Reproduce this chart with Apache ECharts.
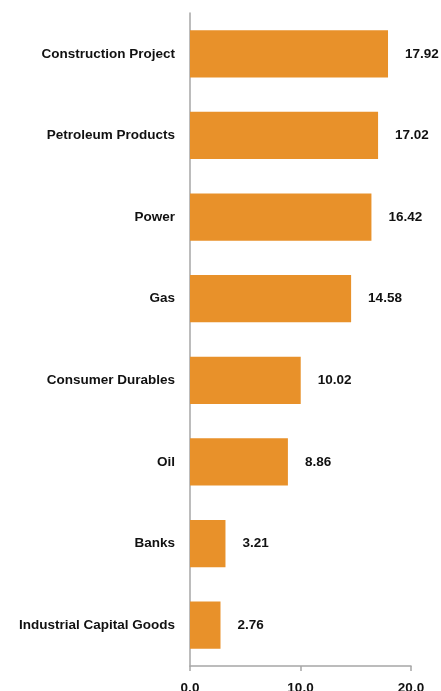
<!DOCTYPE html>
<html>
<head>
<meta charset="utf-8">
<script src="https://cdn.jsdelivr.net/npm/echarts@6/dist/echarts.min.js"></script>
<style>
  html, body { margin: 0; padding: 0; background: #fff; }
  #chart { width: 441px; height: 691px; }
</style>
</head>
<body>
<div id="chart"></div>
<script>
// Sectors, listed bottom to top as the category axis draws them
const sectors = [
  'Industrial Capital Goods',
  'Banks',
  'Oil',
  'Consumer Durables',
  'Gas',
  'Power',
  'Petroleum Products',
  'Construction Project'
];
const values = [2.76, 3.21, 8.86, 10.02, 14.58, 16.42, 17.02, 17.92];
const xTicks = [0, 10, 20];

const chart = echarts.init(document.getElementById('chart'));
const font = 'Liberation Sans, Arial, sans-serif';
const textSize = 13.5;

chart.setOption({
  animation: false,
  grid: {
    left: 190, right: 30, top: 13, bottom: 25,
    containLabel: false,
    outerBoundsMode: 'none'
  },
  xAxis: {
    type: 'value',
    min: xTicks[0],
    max: xTicks[xTicks.length - 1],
    interval: 10,
    axisLine: { show: true, lineStyle: { color: '#a6a6a6', width: 1.5 } },
    axisTick: { show: true, length: 5, lineStyle: { color: '#a6a6a6', width: 1.5 } },
    splitLine: { show: false },
    axisLabel: {
      margin: 15,
      color: '#111',
      fontFamily: font,
      fontWeight: 'bold',
      fontSize: textSize,
      formatter: v => v.toFixed(1)
    }
  },
  yAxis: {
    type: 'category',
    data: sectors,
    axisLine: { show: true, lineStyle: { color: '#a6a6a6', width: 1.5 } },
    axisTick: { show: false },
    axisLabel: {
      margin: 15,
      color: '#111',
      fontFamily: font,
      fontWeight: 'bold',
      fontSize: textSize
    }
  },
  series: [{
    type: 'bar',
    data: values,
    barCategoryGap: '42%',
    itemStyle: { color: '#e8912a' },
    label: {
      show: true,
      position: 'right',
      distance: 17,
      color: '#111',
      fontFamily: font,
      fontWeight: 'bold',
      fontSize: textSize,
      formatter: p => p.value.toFixed(2)
    }
  }]
});
</script>
</body>
</html>
